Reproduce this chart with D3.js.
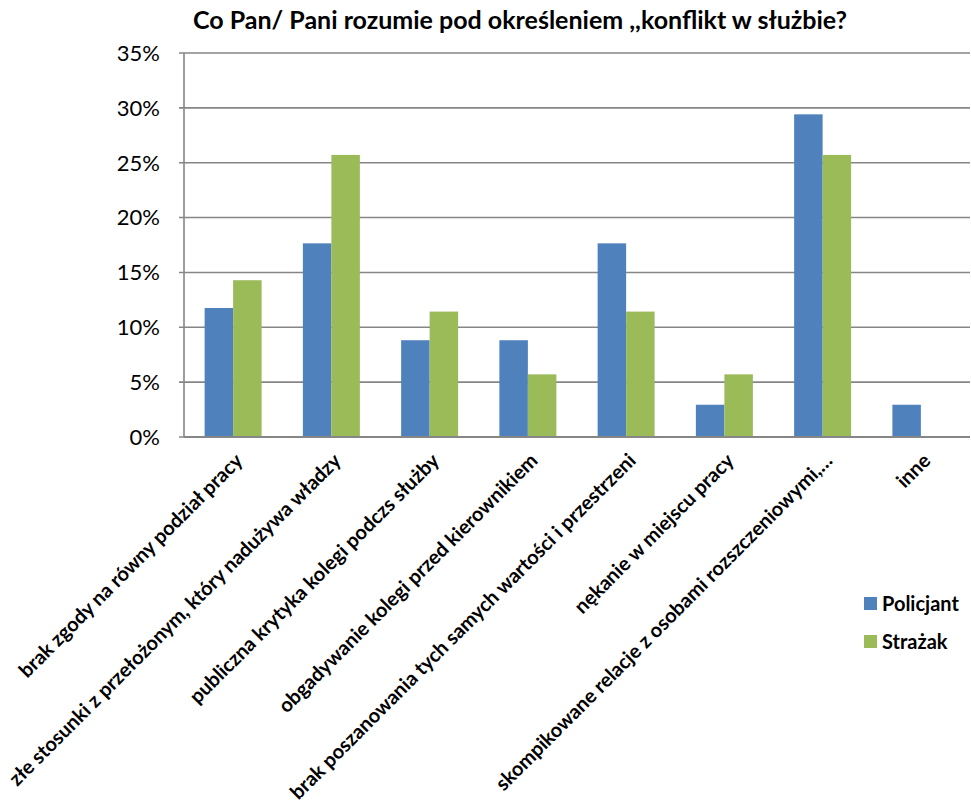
<!DOCTYPE html>
<html><head><meta charset="utf-8">
<script src="https://cdn.jsdelivr.net/npm/d3@7"></script>
<style>
body{margin:0;background:#fff;}
text{font-family:Lato,"Open Sans",sans-serif;fill:#000;}
</style></head>
<body><svg id="c" width="971" height="807"></svg>
<script>
const categories = [
  "brak zgody na równy podział pracy",
  "złe stosunki z przełożonym, który nadużywa władzy",
  "publiczna krytyka kolegi podczs służby",
  "obgadywanie kolegi przed kierownikiem",
  "brak poszanowania tych samych wartości i przestrzeni",
  "nękanie w miejscu pracy",
  "skompikowane relacje z osobami rozszczeniowymi,…",
  "inne"
];
const policjant = [11.76, 17.65, 8.82, 8.82, 17.65, 2.94, 29.41, 2.94];
const strazak   = [14.29, 25.71, 11.43, 5.71, 11.43, 5.71, 25.71, 0];
const seriesNames = ["Policjant", "Strażak"];
const colors = ["#4F81BD", "#9BBB59"];
const yTicks = [0, 5, 10, 15, 20, 25, 30, 35];
const title = "Co Pan/ Pani rozumie pod określeniem ,,konflikt w służbie?";

const svg = d3.select("#c");
const m = {left:184, right:970, top:53, bottom:437};
const x = d3.scaleBand().domain(categories).range([m.left, m.right]).paddingInner(0.42).paddingOuter(0.21);
const xs = d3.scaleBand().domain(seriesNames).range([0, x.bandwidth()]);
const y = d3.scaleLinear().domain([0, 35]).range([m.bottom, m.top]);

svg.append("g").selectAll("line").data(yTicks).join("line")
  .attr("x1", m.left-5).attr("x2", m.right)
  .attr("y1", d=>y(d)).attr("y2", d=>y(d))
  .attr("stroke", "#868686").attr("stroke-width", 1.6);

svg.append("g").selectAll("text").data(yTicks).join("text")
  .attr("x", 160).attr("y", d=>y(d)).attr("dy", "0.36em")
  .attr("text-anchor", "end").style("font-size", "22px")
  .text(d=>d+"%");

const data = categories.map((c,i)=>({c, vals:[policjant[i], strazak[i]]}));
const g = svg.append("g");
data.forEach(d=>{
  d.vals.forEach((v,j)=>{
    if (v<=0) return;
    g.append("rect")
      .attr("x", x(d.c)+xs(seriesNames[j]))
      .attr("y", y(v))
      .attr("width", xs.bandwidth())
      .attr("height", y(0)-y(v))
      .attr("fill", colors[j]);
  });
});

svg.append("line").attr("x1", m.left).attr("x2", m.left).attr("y1", m.top).attr("y2", m.bottom)
  .attr("stroke", "#868686").attr("stroke-width", 1.6);
svg.append("line").attr("x1", m.left).attr("x2", m.right).attr("y1", m.bottom).attr("y2", m.bottom)
  .attr("stroke", "#868686").attr("stroke-width", 2);

svg.append("g").selectAll("text").data(categories).join("text")
  .attr("transform", d=>`translate(${x(d)+x.bandwidth()/2+6},${457}) rotate(-45)`)
  .attr("text-anchor", "end").attr("dy", "0.35em")
  .style("font-size", "20px").style("font-weight", "bold")
  .text(d=>d);

svg.append("text").attr("x", 520).attr("y", 29).attr("text-anchor", "middle")
  .style("font-size", "25px").style("font-weight", "bold").text(title);

const lg = svg.append("g");
seriesNames.forEach((s,i)=>{
  lg.append("rect").attr("x", 864).attr("y", 597+i*38).attr("width", 13).attr("height", 13).attr("fill", colors[i]);
  lg.append("text").attr("x", 882).attr("y", 604+i*38).attr("dy", "0.36em")
    .style("font-size", "20px").style("font-weight", "bold").text(s);
});
</script></body></html>
